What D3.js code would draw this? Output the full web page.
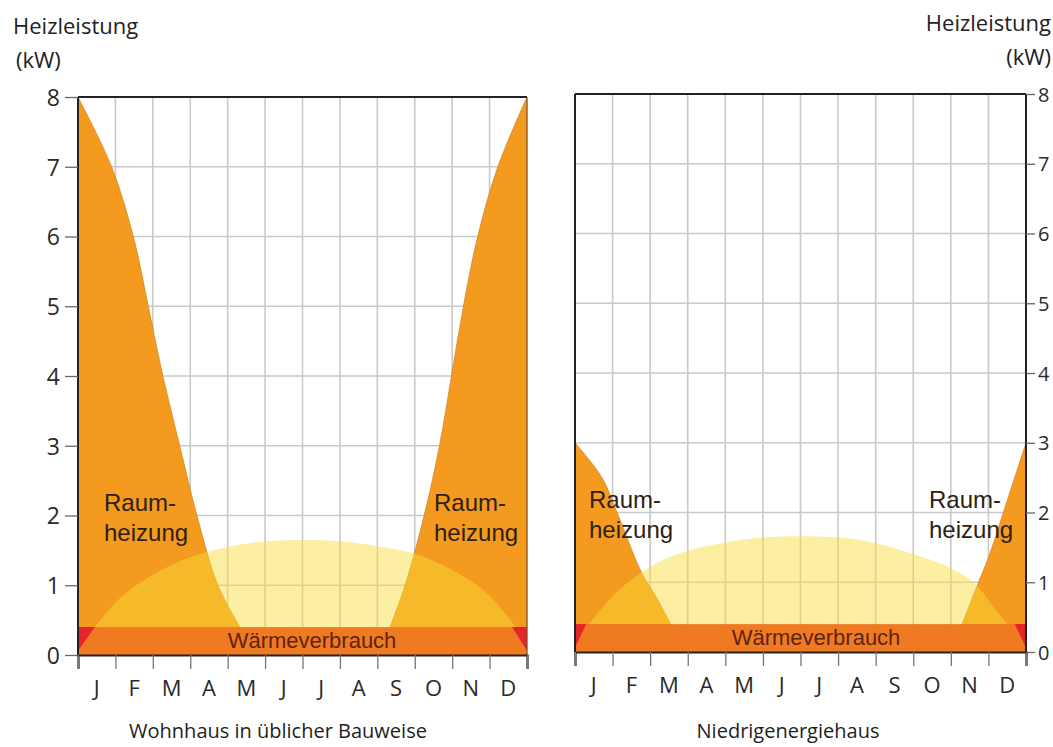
<!DOCTYPE html>
<html><head><meta charset="utf-8">
<script src="https://cdn.jsdelivr.net/npm/d3@7/dist/d3.min.js"></script>
<style>
html,body{margin:0;padding:0;background:#fff;}
svg{display:block;}
</style></head>
<body>
<svg id="chart" width="1053" height="747"></svg>
<script>
// ---------- DATA ----------
const months = ["J","F","M","A","M","J","J","A","S","O","N","D"];
const yTicks = [0,1,2,3,4,5,6,7,8];
const baseLoad = 0.4; // Wärmeverbrauch (kW)

// Raumheizung, [month position, kW]
const heizungWohnhaus = [[0,8],[0.9,7],[1.48,6],[1.88,5],[2.27,4],[2.72,3],[3.18,2],[3.74,1],[4.33,0.4],
  [8.34,0.4],[8.74,1],[9.25,2],[9.66,3],[9.98,4],[10.3,5],[10.68,6],[11.22,7],[12,8]];
const heizungNiedrig = [[0,3],[0.72,2.5],[1.12,2],[1.78,1.13],[2.15,0.8],[2.55,0.4],
  [10.3,0.4],[10.66,0.9],[11.01,1.37],[11.54,2.24],[12,3]];

// Warmwasser / Solar dome, [month position, kW]
const domeWohnhaus = [[0.45,0.4],[1,0.75],[2,1.15],[3,1.4],[4,1.55],[5,1.63],[6,1.65],[7,1.63],[8,1.56],[9,1.45],[10,1.22],[11,0.85],[11.7,0.4]];
const domeNiedrig = [[0.37,0.4],[1,0.8],[2,1.22],[3,1.45],[4,1.57],[5,1.64],[6,1.66],[7,1.64],[8,1.56],[9,1.4],[10,1.2],[10.7,0.95],[11.2,0.6],[11.5,0.4]];

// red corner markers [month start, month end]
const cornerWohnhaus = [[0,0.45],[11.6,12]];
const cornerNiedrig = [[0,0.3],[11.7,12]];

const titles = ["Wohnhaus in üblicher Bauweise","Niedrigenergiehaus"];
const yTitle = ["Heizleistung","(kW)"];
const areaLabel = ["Raum-","heizung"];
const bandLabel = "Wärmeverbrauch";

// ---------- LAYOUT ----------
const svg = d3.select("#chart");
const AX = "'Open Sans', 'Noto Sans', sans-serif";
const LB = "'Liberation Sans', Arial, sans-serif";

const panels = [
  {x0:78, x1:527, yT:97, yB:655, heat:heizungWohnhaus, dome:domeWohnhaus, corners:cornerWohnhaus,
   axis:"left", title:titles[0], titleX:278, labels:[104,434], bandX:312, rightFrame:false},
  {x0:575, x1:1026, yT:94, yB:652, heat:heizungNiedrig, dome:domeNiedrig, corners:cornerNiedrig,
   axis:"right", title:titles[1], titleX:788, labels:[589,929], bandX:816, rightFrame:true}
];

panels.forEach((p,i)=>{
  const x = d3.scaleLinear().domain([0,12]).range([p.x0,p.x1]);
  const y = d3.scaleLinear().domain([0,8]).range([p.yB,p.yT]);
  const xb = d3.scaleBand().domain(d3.range(12)).range([p.x0,p.x1]);
  const g = svg.append("g");

  // grid
  g.append("g").selectAll("line.v").data(d3.range(1,12)).join("line")
    .attr("x1",d=>x(d)).attr("x2",d=>x(d)).attr("y1",p.yT).attr("y2",p.yB)
    .attr("stroke","#c9c9c9").attr("stroke-width",1.6);
  g.append("g").selectAll("line.h").data(yTicks.slice(1,8)).join("line")
    .attr("x1",p.x0).attr("x2",p.x1).attr("y1",d=>y(d)).attr("y2",d=>y(d))
    .attr("stroke","#c9c9c9").attr("stroke-width",1.6);

  // Raumheizung area (split into two sides)
  const splitIdx = p.heat.findIndex((d,k)=>k>0 && d[1]===baseLoad && p.heat[k-1][1]===baseLoad);
  const sides = [p.heat.slice(0,splitIdx), p.heat.slice(splitIdx)];
  const area = d3.area().x(d=>x(d[0])).y0(y(0)).y1(d=>y(d[1])).curve(d3.curveCatmullRom.alpha(0.5));
  g.append("g").selectAll("path").data(sides).join("path")
    .attr("d",area).attr("fill","#f39a1f").attr("stroke","#c97a16").attr("stroke-width",0.6);

  // dome
  const dArea = d3.area().x(d=>x(d[0])).y0(y(baseLoad)).y1(d=>y(d[1])).curve(d3.curveMonotoneX);
  g.append("path").datum(p.dome).attr("d",dArea).attr("fill","#f8dc37").attr("fill-opacity",0.47);

  // band
  g.append("rect").attr("x",x(0)).attr("width",x(12)-x(0)).attr("y",y(baseLoad)).attr("height",y(0)-y(baseLoad))
    .attr("fill","#ef7a22");
  // red corners
  g.selectAll("path.corner").data(p.corners).join("path")
    .attr("d",(d,k)=>{
      const yTop = y(baseLoad), yLow = y(0.06);
      if(k===0) return `M${x(d[0])},${yTop}L${x(d[1])},${yTop}L${x(d[0])},${yLow}Z`;
      return `M${x(d[0])},${yTop}L${x(d[1])},${yTop}L${x(d[1])},${yLow}Z`;
    }).attr("fill","#e4252a");

  g.append("text").attr("x",p.bandX).attr("y",y(0)-7).attr("text-anchor","middle")
    .attr("font-family",LB).attr("font-size",22).attr("fill","#5e2410").text(bandLabel);

  // Raumheizung labels
  p.labels.forEach(lx=>{
    const t = g.append("text").attr("font-family",LB).attr("font-size",24).attr("fill","#2e2014");
    t.append("tspan").attr("x",lx).attr("y",y(2)-5).text(areaLabel[0]);
    t.append("tspan").attr("x",lx).attr("y",y(2)+25).text(areaLabel[1]);
  });

  // frame
  g.append("line").attr("x1",p.x0).attr("x2",p.x1).attr("y1",p.yT).attr("y2",p.yT).attr("stroke","#222").attr("stroke-width",2);
  g.append("line").attr("x1",p.x1).attr("x2",p.x1).attr("y1",p.yT).attr("y2",p.yB)
    .attr("stroke",p.rightFrame? "#222":"#6b4a2a").attr("stroke-width",p.rightFrame?2:1);
  g.append("line").attr("x1",p.x0).attr("x2",p.x0).attr("y1",p.yT).attr("y2",p.yB)
    .attr("stroke","#222").attr("stroke-width",2);

  // y axis
  const isLeft = p.axis==="left";
  const yAxis = (isLeft? d3.axisLeft(y) : d3.axisRight(y)).tickValues(yTicks)
    .tickSize(isLeft?13:9).tickPadding(isLeft?5:3).tickFormat(d3.format("d"));
  const ya = g.append("g").attr("transform",`translate(${isLeft?p.x0:p.x1},0)`).call(yAxis);
  ya.select(".domain").remove();
  ya.selectAll("line").attr("stroke","#666").attr("stroke-width",1.3);
  ya.selectAll("text").attr("font-family",AX).attr("font-size",isLeft?23:20).attr("fill","#2a2a2a").attr("dy","0.36em");

  // x axis ticks
  const xa = g.append("g").attr("transform",`translate(0,${p.yB})`)
    .call(d3.axisBottom(x).tickValues(d3.range(0,13)).tickSize(14).tickFormat(""));
  xa.select(".domain").attr("stroke","#222").attr("stroke-width",2.2);
  xa.selectAll(".tick line").attr("stroke","#777").attr("stroke-width",1.3);
  // month labels
  const xl = g.append("g").attr("transform",`translate(0,${p.yB})`)
    .call(d3.axisBottom(xb).tickSize(0).tickPadding(25).tickFormat(d=>months[d]));
  xl.select(".domain").remove();
  xl.selectAll("text").attr("font-family",AX).attr("font-size",22).attr("fill","#2a2a2a");

  // title below
  g.append("text").attr("x",p.titleX).attr("y",p.yB+83 - (i===0?0:-3)).attr("text-anchor","middle")
    .attr("font-family",AX).attr("font-size",20).attr("fill","#1e1e1e").text(p.title);
});

// y titles
const yt1 = svg.append("text").attr("font-family",AX).attr("font-size",22).attr("fill","#222");
yt1.append("tspan").attr("x",13).attr("y",34).text(yTitle[0]);
yt1.append("tspan").attr("x",16).attr("y",68).text(yTitle[1]);
const yt2 = svg.append("text").attr("font-family",AX).attr("font-size",22).attr("fill","#222").attr("text-anchor","end");
yt2.append("tspan").attr("x",1051).attr("y",31).text(yTitle[0]);
yt2.append("tspan").attr("x",1051).attr("y",65).text(yTitle[1]);
</script>
</body></html>
